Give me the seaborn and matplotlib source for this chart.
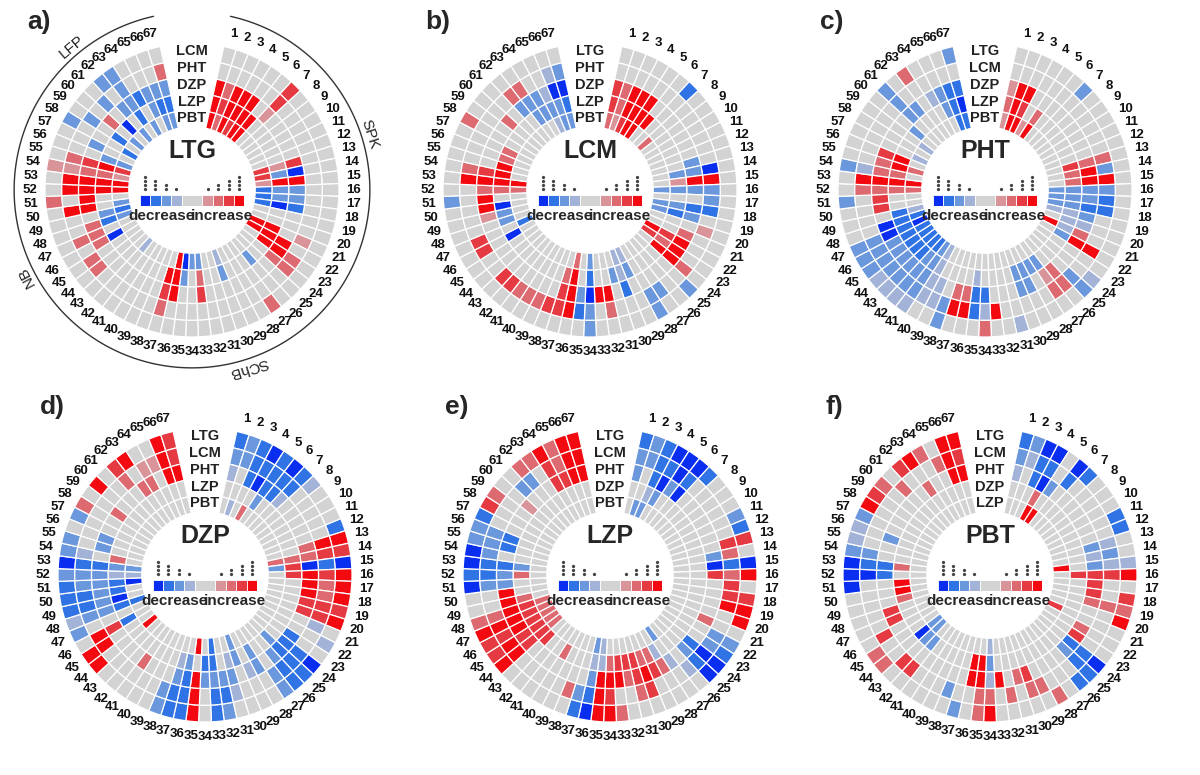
import numpy as np
import matplotlib
matplotlib.use("Agg")
import matplotlib.pyplot as plt
import seaborn as sns

# significance levels per sector (1..67): +1..+4 increase, -1..-4 decrease, missing = no change
# rings listed outer -> inner
LTG_rings = ['LCM', 'PHT', 'DZP', 'LZP', 'PBT']
LTG_cells = {
    'LCM': {7: 3, 27: 2, 51: 2, 54: 1, 58: -2, 62: -2, 63: -2},
    'PHT': {7: 3, 21: 1, 23: 2, 24: 2, 37: 2, 44: 2, 45: 2, 47: 2, 50: 4, 52: 4, 53: 4, 54: 1,
            55: 2, 59: -2, 61: -2, 63: -2, 67: 2},
    'DZP': {1: 4, 2: 2, 3: 4, 4: 4, 5: 4, 7: 1, 13: 3, 14: -4, 15: 4, 16: -2, 17: -2, 18: -3,
            22: 4, 23: 4, 24: 2, 33: 3, 36: 4, 37: 3, 46: 2, 47: 2, 48: 2, 50: 4, 51: 4, 52: 4,
            53: 4, 54: 2, 55: 3, 57: -2, 60: 2, 62: -2, 63: -2, 64: -3, 65: -2, 66: -2, 67: -2},
    'LZP': {1: 4, 2: 3, 3: 4, 4: 4, 5: 4, 6: 4, 13: 1, 14: -2, 15: 4, 16: -2, 17: -2, 18: -4,
            21: 4, 22: 4, 23: 4, 26: -2, 30: -2, 33: 2, 35: -2, 36: 4, 37: 4, 46: -4, 48: -3,
            49: -2, 52: 4, 53: 4, 54: 2, 55: 4, 56: -2, 59: -3, 61: -4, 63: -3, 65: -2, 66: -3, 67: -3},
    'PBT': {1: 4, 2: 2, 3: 4, 4: 3, 5: 4, 6: 4, 13: 3, 14: 3, 15: 1, 16: -3, 17: -3, 18: -3,
            21: 4, 22: 4, 30: -1, 33: -2, 34: -2, 35: -4, 36: 4, 42: -1, 48: -2, 49: -3, 50: -2,
            52: 4, 53: 4, 54: 1, 55: 3, 56: -2, 58: -3, 60: -2, 62: -2, 64: -2, 66: -2, 67: -2},
}
LCM_rings = ['LTG', 'PHT', 'DZP', 'LZP', 'PBT']
LCM_cells = {
    'LTG': {7: -3, 25: -2, 28: -2, 34: -2, 51: -2, 58: 2},
    'PHT': {14: -4, 15: 4, 16: -2, 17: -2, 18: -3, 20: 1, 24: 2, 27: -2, 28: -2, 32: 2, 34: -2,
            35: -3, 36: 4, 37: 3, 38: 3, 39: 2, 40: 2, 41: 2, 42: 3, 43: 3, 46: 3, 47: 3,
            53: 4, 54: 2, 62: 2, 63: 2, 66: -1, 67: -2},
    'DZP': {1: 3, 2: 2, 3: 4, 4: 4, 5: 4, 13: -2, 14: -2, 15: 4, 16: -2, 18: -3, 19: -2, 21: 2,
            22: 4, 23: 4, 24: 4, 30: -3, 32: 4, 33: 4, 34: -4, 35: -2, 36: 4, 37: 3, 49: 1,
            50: 4, 51: 4, 52: 2, 53: 4, 54: 3, 60: 2, 62: -2, 63: -2, 64: -2, 65: -1, 66: -4, 67: -4},
    'LZP': {1: 3, 2: 2, 3: 4, 4: 4, 5: 4, 6: 4, 14: -2, 15: 1, 16: -2, 18: -2, 19: -3, 22: 3,
            23: 2, 24: 4, 29: -2, 30: -1, 31: -2, 34: -3, 36: 4, 37: 2, 46: -4, 48: -2, 49: -2,
            50: -4, 52: 2, 53: 4, 54: 4, 55: 4, 56: 2, 57: 2, 63: -2, 64: -2, 65: -2, 66: -2, 67: -3},
    'PBT': {1: 2, 2: 1, 3: 3, 4: 4, 5: 4, 8: 2, 16: -2, 18: -2, 19: -2, 22: 4, 23: 3, 29: -1,
            30: -1, 34: -2, 36: 2, 47: -3, 52: 2, 53: 4, 65: -1, 66: -2, 67: -2},
}
PHT_rings = ['LTG', 'LCM', 'DZP', 'LZP', 'PBT']
PHT_cells = {
    'LTG': {7: -2, 24: -1, 25: -2, 31: -1, 34: 2, 38: -2, 41: -1, 42: -1, 43: -1, 44: -1, 45: -2,
            46: -2, 47: -2, 51: -2, 54: -2, 61: -2, 63: 2, 67: -2},
    'LCM': {13: 2, 14: -2, 15: 4, 16: -2, 17: -3, 18: -3, 22: 4, 25: -2, 26: 2, 27: 2, 33: 4,
            34: -1, 35: -3, 36: 4, 37: 4, 38: -2, 39: -1, 40: -1, 41: -2, 42: -2, 43: -2, 44: -2,
            45: -2, 46: -2, 47: -2, 52: 2, 53: 4, 54: -1, 61: -2},
    'DZP': {1: 1, 2: 4, 3: 4, 13: 2, 14: 4, 15: 4, 16: -2, 17: -2, 18: -3, 19: -2, 20: -1, 21: 2,
            22: 4, 26: 2, 27: 1, 29: -2, 30: -2, 34: -3, 35: -3, 36: 2, 37: 2, 39: -1, 40: -1,
            41: -2, 42: -2, 43: -2, 44: -2, 45: -2, 46: -2, 47: -4, 48: -4, 50: 3, 51: 3, 52: 2,
            53: 4, 54: 2, 55: 2, 56: 3, 61: -2, 62: -2, 64: -1, 65: -2, 66: -3, 67: -3},
    'LZP': {1: 2, 2: 4, 3: 3, 5: 2, 13: 3, 14: 2, 15: 2, 16: -2, 17: -2, 18: -2, 19: -1, 20: -1,
            21: -1, 22: -2, 27: -2, 28: -2, 29: -2, 30: -2, 35: -1, 40: -1, 41: -2, 42: -2,
            43: -3, 44: -3, 45: -3, 46: -3, 47: -3, 48: -3, 49: -3, 52: 2, 53: 4, 54: 2, 55: 4,
            56: 4, 60: -2, 65: -2, 66: -3, 67: -4},
    'PBT': {1: 1, 2: 4, 3: 4, 4: 1, 5: 4, 16: -2, 17: -2, 18: -2, 19: -1, 21: 4, 40: -1, 41: -2,
            42: -3, 43: -3, 44: -3, 45: -3, 46: -3, 47: -4, 48: -3, 49: -1, 52: 2, 53: 4, 55: 2,
            57: -1, 59: -1, 66: -3, 67: -3},
}
DZP_rings = ['LTG', 'LCM', 'PHT', 'LZP', 'PBT']
DZP_cells = {
    'LTG': {1: -3, 2: -2, 3: -3, 4: -4, 5: -3, 6: -4, 7: -3, 8: -1, 12: -3, 13: 4, 14: 3, 15: -4,
            16: 4, 17: 4, 18: 4, 19: 3, 20: 4, 22: -1, 24: -4, 25: -3, 26: -3, 27: -2, 32: -2,
            33: -3, 35: 4, 36: -3, 37: -3, 38: -2, 44: 4, 45: 4, 47: -2, 48: -1, 49: -3, 50: -3,
            51: -3, 52: -2, 53: -4, 54: -2, 55: -2, 57: -2, 58: 2, 60: 4, 62: 3, 63: 4, 66: 4, 67: 3},
    'LCM': {1: -2, 2: -2, 3: -3, 4: -3, 5: -3, 6: -3, 7: -3, 13: 4, 14: 3, 15: -3, 16: 3, 17: 2,
            18: 2, 19: 3, 20: 3, 21: -1, 24: -3, 25: -3, 26: -3, 27: -2, 31: -1, 32: -3, 33: -3,
            35: 4, 36: -3, 37: -3, 38: -2, 45: 4, 46: 4, 48: -2, 49: -3, 50: -3, 51: -2, 52: -2,
            53: -3, 54: -1, 62: 2, 64: 1, 65: 1, 66: 4, 67: 3},
    'PHT': {1: -1, 3: -3, 4: -4, 5: -3, 6: -3, 7: -1, 13: 2, 14: 2, 15: -4, 16: 4, 17: 4, 18: 4,
            19: 3, 20: 3, 23: -3, 24: -3, 25: -3, 26: -2, 28: -2, 29: -1, 31: -2, 32: -2, 33: -2,
            34: -2, 35: 4, 36: -3, 37: -2, 41: 2, 46: 3, 48: -2, 49: -2, 50: -2, 51: -2, 52: -2,
            53: -3, 55: -2, 56: -2, 59: 2, 63: 2, 64: 2, 66: 4, 67: 4},
    'LZP': {5: -2, 14: 2, 15: 3, 16: 3, 25: -2, 28: -2, 30: -2, 31: -1, 33: -3, 34: -3, 36: -2,
            37: -1, 46: -3, 48: -3, 49: -4, 50: -3, 51: -3, 52: -1, 53: -2, 54: 2},
    'PBT': {2: -1, 4: 2, 14: 2, 15: -2, 30: -2, 33: -3, 35: 4, 44: 4, 48: -3, 51: -4, 52: -1, 53: -2},
}
LZP_rings = ['LTG', 'LCM', 'PHT', 'DZP', 'PBT']
LZP_cells = {
    'LTG': {1: -3, 2: -2, 3: -3, 4: -4, 5: -4, 6: -4, 7: -3, 11: -2, 12: -3, 13: 3, 15: -4,
            16: 4, 18: 3, 19: 4, 20: 4, 22: -2, 23: -3, 24: -4, 25: -4, 33: 2, 34: 4, 35: 4,
            36: -4, 37: -3, 44: 4, 45: 3, 46: 3, 47: 4, 48: 2, 51: -4, 52: -3, 53: -4, 54: -4,
            55: -2, 56: -2, 57: -3, 58: 3, 59: 2, 62: 2, 63: 2, 64: 4, 65: 2, 66: 4, 67: 4},
    'LCM': {1: -2, 2: -2, 3: -3, 4: -3, 5: -4, 6: -3, 13: 3, 14: 2, 15: -3, 16: 2, 17: 3, 18: 3,
            19: 4, 22: -2, 23: -2, 24: -4, 25: -3, 26: -1, 30: 3, 31: 2, 34: 3, 35: 4, 36: -3,
            37: -2, 38: 2, 44: 4, 45: 4, 46: 3, 47: 4, 48: 2, 51: -2, 52: -3, 53: -3, 54: -2,
            55: -2, 56: -2, 61: -2, 62: -2, 64: 3, 65: 2, 66: 4, 67: 4},
    'PHT': {1: -2, 3: -3, 4: -4, 5: -2, 6: -4, 14: -2, 15: -4, 16: 3, 21: 2, 24: -3, 25: -2,
            27: -1, 28: 2, 29: 3, 30: 4, 31: 3, 32: 2, 33: 4, 34: 4, 35: 4, 36: -2, 44: 3, 45: 3,
            46: 4, 47: 4, 48: 4, 49: 4, 50: 4, 51: -2, 52: -2, 53: -3, 55: -3, 56: -3, 60: 1,
            64: 3, 65: 3, 66: 4, 67: 4},
    'DZP': {3: -1, 4: -2, 28: -1, 29: 2, 30: 2, 31: 3, 32: 3, 33: 3, 34: 2, 35: -1, 36: -1,
            40: 2, 43: 3, 44: 3, 45: 3, 46: 3, 47: 3, 48: 3, 49: 2, 52: 2, 53: -2},
    'PBT': {2: -2, 3: -2, 27: -2, 35: -1, 36: -2, 44: 2, 45: 2, 46: 2, 47: 2, 48: 2},
}
PBT_rings = ['LTG', 'LCM', 'PHT', 'DZP', 'LZP']
PBT_cells = {
    'LTG': {1: -3, 2: -2, 3: -4, 4: -4, 6: -4, 7: -3, 11: -3, 12: -3, 15: -1, 16: 4, 18: 3,
            19: 2, 20: 4, 24: -4, 25: -3, 26: -3, 28: 2, 34: 4, 35: 2, 37: -2, 44: 2, 45: 2,
            51: -4, 52: -4, 53: -4, 54: -2, 55: -1, 56: -1, 57: -2, 58: 4, 59: 3, 60: 2, 62: 3,
            63: 4, 64: 2, 66: 4, 67: 4},
    'LCM': {1: -2, 2: -1, 3: -3, 4: -3, 6: -3, 13: -1, 14: -2, 15: -1, 16: 3, 19: 2, 24: -3,
            25: -3, 29: 2, 30: 2, 32: 2, 34: 2, 35: 2, 38: -2, 42: 3, 43: 3, 46: 3, 52: -4,
            53: -3, 54: -2, 61: 2, 65: 2, 66: 4, 67: 3},
    'PHT': {1: -1, 3: -3, 4: -4, 5: -2, 13: -2, 14: -1, 15: -2, 16: 3, 17: 3, 18: 3, 19: 2,
            22: 2, 23: 3, 24: -3, 25: -2, 30: 3, 31: 2, 33: 4, 34: -1, 35: 4, 36: 4, 47: 3,
            48: 3, 52: -3, 53: -3, 56: -2, 63: 2, 66: 4, 67: 4},
    'DZP': {4: 2, 16: 3, 34: -2, 35: 4, 36: 4, 42: -2, 43: -2, 44: -4, 49: 2, 50: 4, 51: 4, 53: 2},
    'LZP': {4: 4, 5: 4, 15: 4, 21: 3, 34: -1, 43: -2, 44: -2},
}

panels = [
    ('a)', 'LTG', LTG_rings, LTG_cells),
    ('b)', 'LCM', LCM_rings, LCM_cells),
    ('c)', 'PHT', PHT_rings, PHT_cells),
    ('d)', 'DZP', DZP_rings, DZP_cells),
    ('e)', 'LZP', LZP_rings, LZP_cells),
    ('f)', 'PBT', PBT_rings, PBT_cells),
]
sectors = np.arange(1, 68)

# brain-region arcs on panel a (first sector, last sector, label)
regions = [(1, 24, 'SPK'), (25, 36, 'SChB'), (37, 56, 'NB'), (57, 67, 'LFP')]

sns.set_theme(style='white')
plt.rcParams['font.family'] = ['Liberation Sans', 'DejaVu Sans']

blues = ['#a3b3d8', '#6b97dc', '#2f73e4', '#0a2ef0']
reds = ['#d9949a', '#dc6a70', '#e63a43', '#f20a10']
gray = '#d3d3d3'
pal = {0: gray}
for i in range(4):
    pal[-(i + 1)] = blues[i]
    pal[i + 1] = reds[i]

fig = plt.figure(figsize=(12, 7.75), dpi=100)
W, H = 1200, 775
centres = [(192, 190), (590, 190), (985, 190), (205, 575), (610, 575), (990, 575)]
R_px = 147          # outer ring radius in pixels
RMAX = 1.32
inner, outer = 0.43, 1.0
w = (outer - inner) / 5
step = np.radians(5)
theta = np.radians(15 + 5 * (sectors - 1))

for (letter, name, rings, cells), (cx, cy) in zip(panels, centres):
    half = R_px * RMAX
    ax = fig.add_axes([(cx - half) / W, 1 - (cy + half) / H, 2 * half / W, 2 * half / H],
                      projection='polar')
    ax.set_theta_zero_location('N')
    ax.set_theta_direction(-1)
    ax.set_ylim(0, RMAX)
    ax.axis('off')
    for i, ring in enumerate(rings):
        vals = [cells[ring].get(int(s), 0) for s in sectors]
        cols = [pal[v] for v in vals]
        ax.bar(theta, w, width=step, bottom=outer - (i + 1) * w, color=cols,
               edgecolor='white', linewidth=0.9, align='center')
        ax.text(0, outer - (i + 0.5) * w, ring, ha='center', va='center',
                fontsize=10.5, fontweight='bold', color='#222222')
    for s, t in zip(sectors, theta):
        ax.text(t, 1.1, str(s), ha='center', va='center', fontsize=9.5,
                fontweight='bold', color='#111111')
    ax.text(0.5, 0.6, name, transform=ax.transAxes, ha='center', va='center',
            fontsize=18, fontweight='bold')
    fig.text((cx - 165) / W, 1 - (cy - 168) / H, letter, fontsize=19, fontweight='bold',
             ha='left', va='center')

    # significance legend in the centre
    lg = ax.inset_axes([0.365, 0.458, 0.27, 0.03])
    legend_levels = [-4, -3, -2, -1, 0, 1, 2, 3, 4]
    widths = [1, 1, 1, 1, 2, 1, 1, 1, 1]
    lefts = np.concatenate([[0], np.cumsum(widths)[:-1]])
    lg.barh(0, widths, left=lefts, height=1, color=[pal[v] for v in legend_levels],
            edgecolor='white', linewidth=0.6, align='edge')
    lg.set_xlim(0, 10)
    lg.set_ylim(0, 1)
    lg.axis('off')
    for lev, l, wd in zip(legend_levels, lefts, widths):
        if lev == 0:
            continue
        n = abs(lev)
        lg.scatter([l + wd / 2] * n, 1.5 + 0.35 * np.arange(n), s=1.8, color='#444444',
                   clip_on=False)
    lg.text(2.1, -0.2, 'decrease', ha='center', va='top', fontsize=11, fontweight='bold')
    lg.text(7.9, -0.2, 'increase', ha='center', va='top', fontsize=11, fontweight='bold')

    if name == 'LTG':
        for first, last, lab in regions:
            a0 = np.radians(15 + 5 * (first - 1) - 2.5)
            a1 = np.radians(15 + 5 * (last - 1) + 2.5)
            tt = np.linspace(a0, a1, 100)
            ax.plot(tt, np.full_like(tt, 1.21), color='#333333', lw=1.0, clip_on=False)
            mid = (a0 + a1) / 2
            rot = -np.degrees(mid)
            ax.text(mid, 1.27, lab, rotation=rot, rotation_mode='anchor', ha='center',
                    va='center', fontsize=11, color='#222222')

fig.savefig('out.png', dpi=100)
